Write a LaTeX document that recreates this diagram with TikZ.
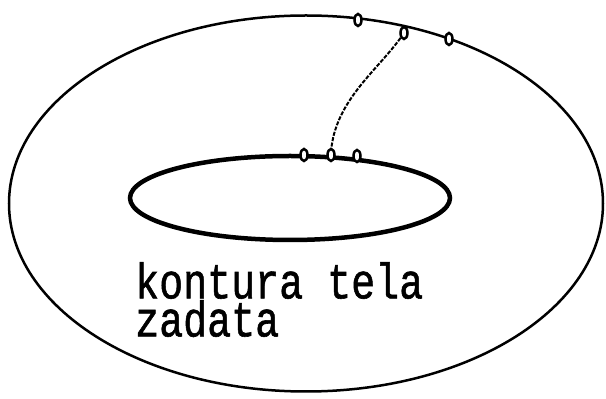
\documentclass[tikz,border=0pt]{standalone}
\usepackage{fontspec}
\newfontfamily\monofont[FakeBold=1.2]{Liberation Mono}
\usetikzlibrary{shapes.geometric}
\begin{document}
\begin{tikzpicture}[x=1pt,y=1pt,
  outerline/.style={draw=black,line width=2.5pt},
  innerline/.style={draw=black,line width=4.5pt},
  markerdot/.style={ellipse,draw=black,line width=2.5pt,fill=white,minimum width=7pt,minimum height=12pt,inner sep=0pt},
  linkline/.style={draw=black,line width=2pt,dash pattern=on 4pt off 1.5pt},
  labeltext/.style={anchor=north west,inner sep=0pt,font=\monofont\fontsize{40}{28}\selectfont}]
\useasboundingbox (0,0) rectangle (606,399);
\fill[white] (0,0) rectangle (606,399);
% outer contour
\node[ellipse,outerline,minimum width=594pt,minimum height=376pt,inner sep=0pt] (outer) at (306,195.5) {};
% inner body contour
\node[ellipse,innerline,minimum width=320pt,minimum height=84pt,inner sep=0pt] (inner) at (290,201) {};
% connector
\coordinate (ib) at (331,247);
\coordinate (ot) at (404,366);
\draw[linkline] (ib) .. controls (335,300) and (380,330) .. (ot);
% markers on outer contour
\node[markerdot] (o1) at (358,379) {};
\node[markerdot] (o2) at (404,366) {};
\node[markerdot] (o3) at (449,360) {};
% markers on inner contour
\node[markerdot] (i1) at (304,244) {};
\node[markerdot] (i2) at (331,244) {};
\node[markerdot] (i3) at (357,243) {};
% label
\node[labeltext] (label) at (135,137) {\scalebox{1}[1.25]{\vbox{\baselineskip=28pt\hbox{kontura tela}\hbox{zadata}}}};
\end{tikzpicture}
\end{document}
